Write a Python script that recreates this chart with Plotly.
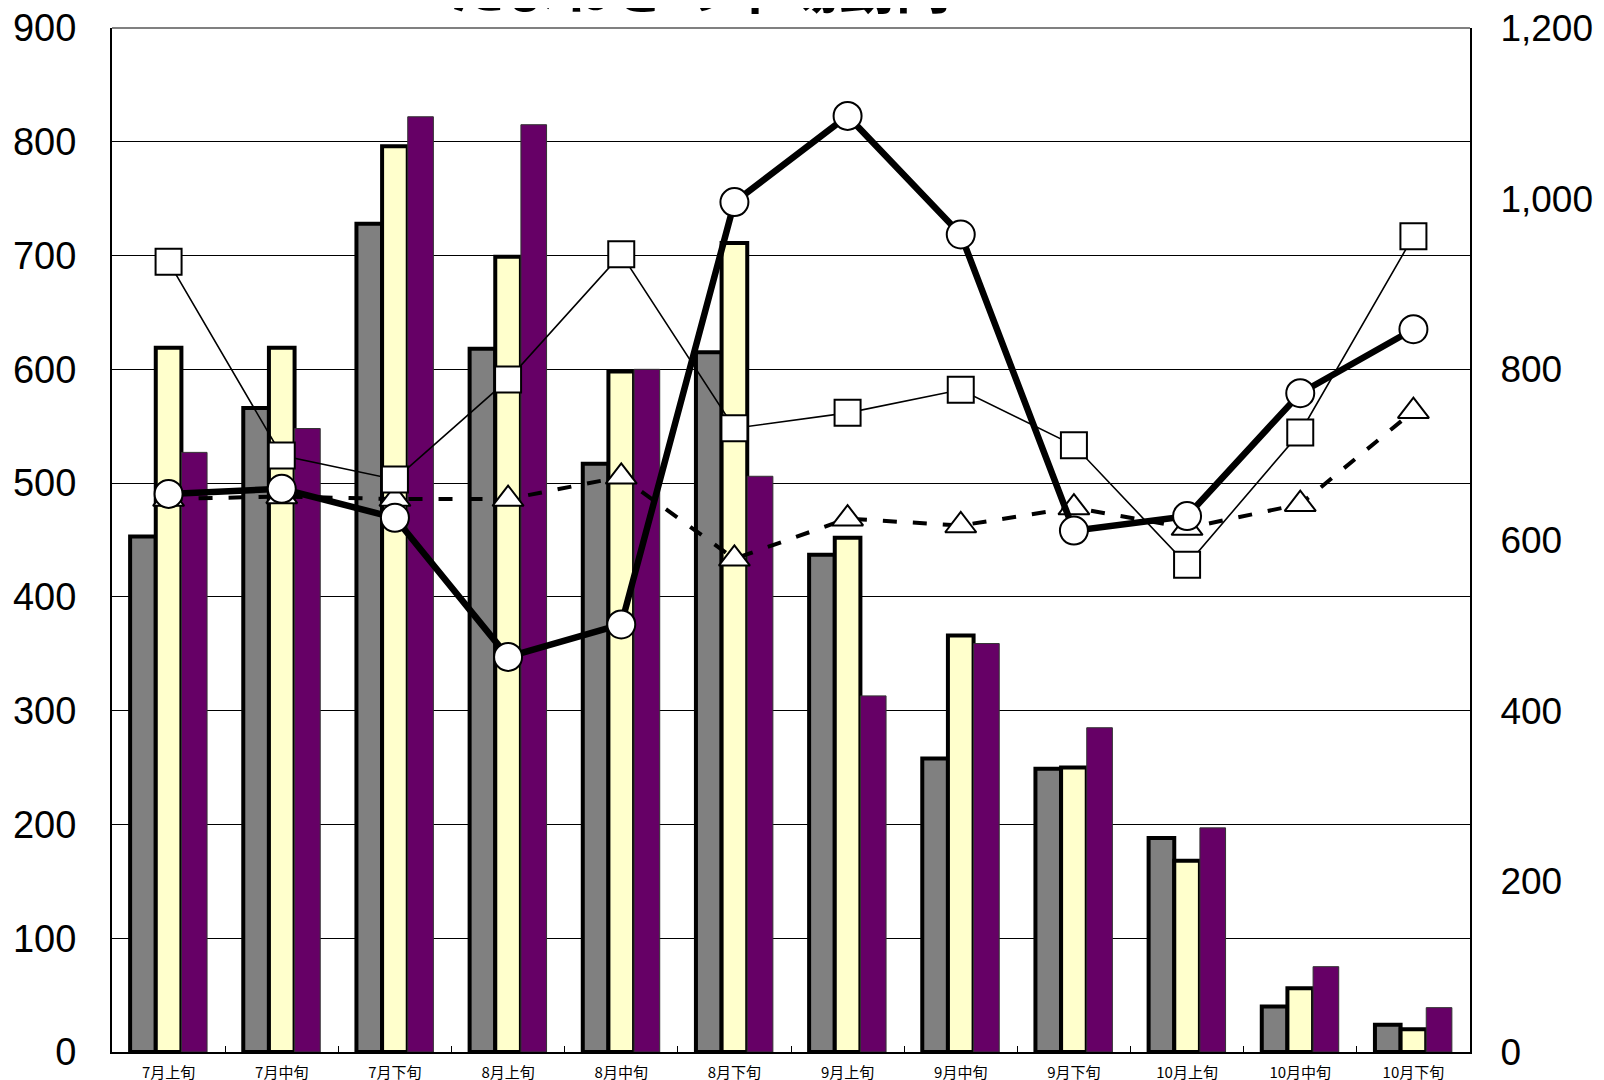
import plotly.graph_objects as go

categories = ["7月上旬", "7月中旬", "7月下旬", "8月上旬", "8月中旬", "8月下旬",
              "9月上旬", "9月中旬", "9月下旬", "10月上旬", "10月中旬", "10月下旬"]

# bars (left axis)
bar_gray = [453, 566, 728, 618, 517, 615, 437, 258, 249, 188, 40, 24]
bar_yellow = [619, 619, 796, 699, 598, 711, 452, 366, 250, 168, 56, 20]
bar_purple = [527, 548, 822, 815, 600, 506, 313, 359, 285, 197, 75, 39]

# lines (right axis)
line_circle = [654, 660, 626, 463, 501, 996, 1097, 958, 611, 628, 772, 847]
line_square = [926, 699, 671, 788, 935, 731, 749, 776, 711, 571, 726, 956]
line_triangle = [648, 651, 648, 648, 674, 578, 625, 617, 638, 614, 642, 751]

left_ticks = list(range(0, 901, 100))
right_ticks = list(range(0, 1201, 200))
right_tick_text = [f"{v:,}" for v in right_ticks]

title_text = "たまねぎの市場動向"

fig = go.Figure()

fig.add_trace(go.Bar(x=categories, y=bar_gray, name="gray",
                     marker=dict(color="#808080", line=dict(color="black", width=4))))
fig.add_trace(go.Bar(x=categories, y=bar_yellow, name="yellow",
                     marker=dict(color="#FFFFCC", line=dict(color="black", width=4))))
fig.add_trace(go.Bar(x=categories, y=bar_purple, name="purple",
                     marker=dict(color="#660066", line=dict(color="#333333", width=1))))

fig.add_trace(go.Scatter(x=categories, y=line_triangle, yaxis="y2", mode="lines+markers",
                         line=dict(color="black", width=4, dash="14px,16px"),
                         marker=dict(symbol="triangle-up", size=27, color="white",
                                     line=dict(color="black", width=2))))
fig.add_trace(go.Scatter(x=categories, y=line_square, yaxis="y2", mode="lines+markers",
                         line=dict(color="black", width=1.6),
                         marker=dict(symbol="square", size=26, color="white",
                                     line=dict(color="black", width=2))))
fig.add_trace(go.Scatter(x=categories, y=line_circle, yaxis="y2", mode="lines+markers",
                         line=dict(color="black", width=6.5),
                         marker=dict(symbol="circle", size=28, color="white",
                                     line=dict(color="black", width=2))))

fig.update_layout(
    width=1604, height=1080,
    margin=dict(l=104, r=142, t=20, b=36, autoexpand=False),
    paper_bgcolor="white", plot_bgcolor="white",
    showlegend=False,
    barmode="group", bargap=0.32, bargroupgap=0,
    font=dict(family="Liberation Sans, Arial, sans-serif", color="black"),
    xaxis=dict(
        type="category", range=[-0.5, 11.5], automargin=False,
        showline=True, linecolor="black", linewidth=2,
        ticks="inside", tickson="boundaries", ticklen=6, tickcolor="black",
        tickfont=dict(size=15, family="Noto Sans CJK JP"), ticklabelstandoff=6,
        ticklabeloverflow="allow",
        showgrid=False,
    ),
    yaxis=dict(
        range=[0, 900], tickvals=left_ticks, automargin=False,
        showline=True, linecolor="black", linewidth=2,
        showgrid=True, gridcolor="black", gridwidth=1,
        tickfont=dict(size=38), ticks="", ticklabelstandoff=26,
        ticklabeloverflow="allow",
        zeroline=False,
    ),
    yaxis2=dict(
        range=[0, 1200], tickvals=right_ticks, ticktext=right_tick_text,
        overlaying="y", side="right", automargin=False,
        showline=True, linecolor="black", linewidth=2,
        showgrid=False, tickfont=dict(size=37), ticks="", ticklabelstandoff=21,
        ticklabeloverflow="allow",
        zeroline=False,
    ),
    shapes=[dict(type="line", xref="paper", yref="paper", x0=0, x1=1, y0=1, y1=1,
                 line=dict(color="#808080", width=2))],
    annotations=[dict(text="<b>" + title_text + "</b>", xref="paper", yref="paper",
                      x=0.433, y=1.0, yanchor="bottom", yshift=2, showarrow=False,
                      font=dict(size=56, family="Noto Sans CJK JP", color="black"))],
)

fig.write_html("out.html")
